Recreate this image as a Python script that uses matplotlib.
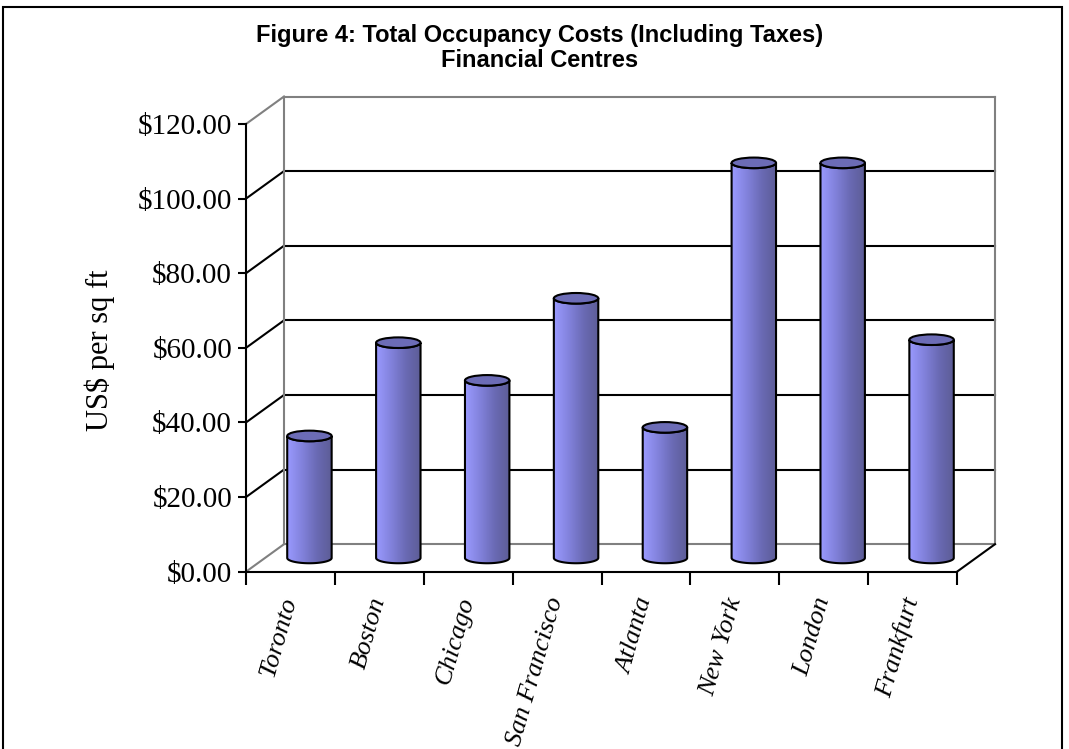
import numpy as np
import matplotlib
matplotlib.use('Agg')
import matplotlib.pyplot as plt
from matplotlib.patches import Ellipse, PathPatch, Rectangle
from matplotlib.path import Path
from matplotlib.colors import LinearSegmentedColormap

# data
cities = ['Toronto', 'Boston', 'Chicago', 'San Francisco',
          'Atlanta', 'New York', 'London', 'Frankfurt']
costs = [32.7, 57.7, 47.6, 69.6, 35.0, 105.9, 105.9, 58.5]
y_ticks = [0, 20, 40, 60, 80, 100, 120]
y_tick_labels = [r'\$0.00', r'\$20.00', r'\$40.00', r'\$60.00',
                 r'\$80.00', r'\$100.00', r'\$120.00']

title = 'Figure 4: Total Occupancy Costs (Including Taxes)\nFinancial Centres'
y_label = r'US\$ per sq ft'

W, H = 1069, 749
GRAY = '#808080'
LW = 1.5

# depth offset of the back wall, in data units (oblique projection)
DX = 0.4276
DY = 7.37


def proj(x, v, d):
    return x + d * DX, v + d * DY


def main():
    fig = plt.figure(figsize=(W / 100, H / 100), dpi=100)
    ax = fig.add_axes([246 / W, 1 - 571.7 / H, 711 / W, 447.7 / H])
    n = len(cities)

    # back wall
    for v in y_ticks:
        c = GRAY if v in (0, y_ticks[-1]) else 'black'
        x0, y0 = proj(0, v, 1)
        x1, y1 = proj(n, v, 1)
        ax.plot([x0, x1], [y0, y1], color=c, lw=LW, clip_on=False, zorder=1)
        # left wall diagonals
        xa, ya = proj(0, v, 0)
        ax.plot([xa, x0], [ya, y0], color=c, lw=LW, clip_on=False, zorder=1)
    for x in (0, n):
        xa, ya = proj(x, 0, 1)
        xb, yb = proj(x, y_ticks[-1], 1)
        ax.plot([xa, xb], [ya, yb], color=GRAY, lw=LW, clip_on=False, zorder=1)
    # floor right edge
    xa, ya = proj(n, 0, 0)
    xb, yb = proj(n, 0, 1)
    ax.plot([xa, xb], [ya, yb], color='black', lw=LW, clip_on=False, zorder=1)

    # cylinders
    cmap = LinearSegmentedColormap.from_list(
        'cyl', ['#9a9aff', '#8282dc', '#6a6ab4', '#5c5c96'])
    grad = np.linspace(0, 1, 256).reshape(1, -1)
    a = 0.25
    b = 1.42
    t_low = np.linspace(np.pi, 2 * np.pi, 60)
    for i, v in enumerate(costs):
        cx, base = proj(i + 0.5, 0, 0.5)
        _, top = proj(i + 0.5, v, 0.5)
        xs = list(cx + a * np.cos(t_low)) + list(cx + a * np.cos(t_low[::-1]))
        ys = list(base + b * np.sin(t_low)) + list(top + b * np.sin(t_low[::-1]))
        verts = list(zip(xs, ys)) + [(xs[0], ys[0])]
        body = PathPatch(Path(verts, closed=True), facecolor='none',
                         edgecolor='black', lw=LW, zorder=4, clip_on=False)
        ax.add_patch(body)
        im = ax.imshow(grad, cmap=cmap, aspect='auto', origin='lower',
                       extent=[cx - a, cx + a, base - b, top + b], zorder=3)
        im.set_clip_path(body)
        ax.add_patch(Ellipse((cx, top), 2 * a, 2 * b, facecolor='#6c6cb6',
                             edgecolor='black', lw=LW, zorder=5, clip_on=False))

    ax.set_xlim(0, n)
    ax.set_ylim(0, y_ticks[-1])

    # axes
    for s in ('top', 'right'):
        ax.spines[s].set_visible(False)
    for s in ('left', 'bottom'):
        ax.spines[s].set_linewidth(LW)
        ax.spines[s].set_zorder(6)
    ax.set_yticks(y_ticks)
    ax.set_yticklabels(y_tick_labels, family='Liberation Serif', fontsize=21)
    ax.tick_params(axis='y', direction='out', length=6, width=LW, pad=4)
    ax.set_xticks(range(n + 1))
    ax.set_xticklabels([])
    ax.tick_params(axis='x', which='major', direction='out', length=9, width=LW)
    ax.set_xticks(np.arange(n) + 0.5, minor=True)
    ax.set_xticklabels(cities, minor=True, rotation=74, ha='right', va='center',
                       rotation_mode='anchor', family='Liberation Serif',
                       style='italic', fontsize=19)
    ax.tick_params(axis='x', which='minor', length=0, pad=19)

    fig.text(100 / W, 1 - 350 / H, y_label, rotation=90, ha='center', va='center',
             family='Liberation Serif', fontsize=22)
    fig.text(0.505, 1 - 48 / H, title, ha='center', va='center', fontsize=17,
             weight='bold', family='Liberation Sans', linespacing=1.15)

    # chart border
    fig.patches.append(Rectangle((3 / W, -0.05), 1059 / W, 1.05 - 7 / H,
                                 transform=fig.transFigure, fill=False,
                                 edgecolor='black', lw=1.5))

    fig.savefig('out.png', dpi=100)


if __name__ == '__main__':
    main()
